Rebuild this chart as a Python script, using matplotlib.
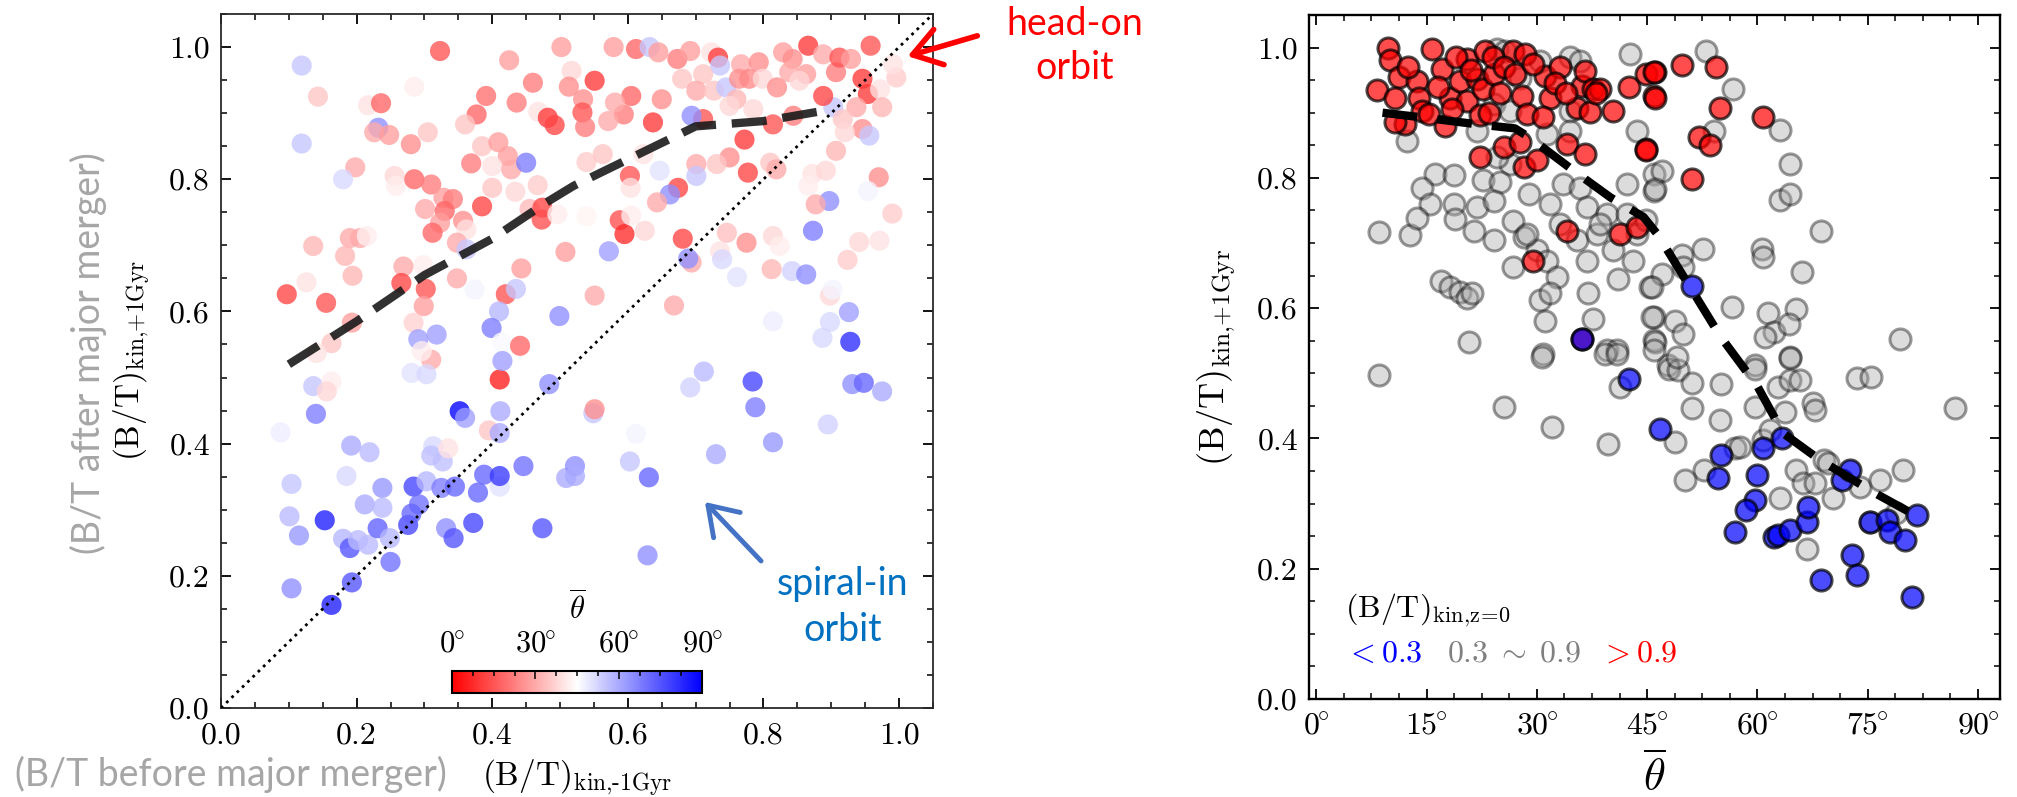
import matplotlib
matplotlib.use("Agg")
import matplotlib.pyplot as plt
import matplotlib.cm as cm
import matplotlib.colors as mcolors
from matplotlib.patches import FancyArrowPatch
from matplotlib.ticker import MultipleLocator

plt.rcParams["font.family"] = "serif"
plt.rcParams["font.serif"] = ["cmr10"]
plt.rcParams["mathtext.fontset"] = "cm"
plt.rcParams["axes.formatter.use_mathtext"] = True

# ---- left panel: B/T before vs after major merger, colour = mean angle ----
bt_before = [
    0.119, 0.323, 0.143, 0.217, 0.236, 0.285, 0.119, 0.232, 0.226, 0.248, 0.280, 0.305,
    0.198, 0.180, 0.256, 0.258, 0.285, 0.310, 0.328, 0.301, 0.342, 0.330, 0.323, 0.312,
    0.357, 0.362, 0.348, 0.362, 0.385, 0.391, 0.377, 0.360, 0.425, 0.460, 0.436, 0.468,
    0.482, 0.492, 0.369, 0.385, 0.409, 0.423, 0.400, 0.428, 0.450, 0.400, 0.434, 0.467,
    0.455, 0.474, 0.473, 0.496, 0.502, 0.517, 0.513, 0.534, 0.533, 0.537, 0.551, 0.539,
    0.539, 0.508, 0.443, 0.420, 0.435, 0.410, 0.399, 0.414, 0.441, 0.499, 0.551, 0.374,
    0.348, 0.298, 0.269, 0.266, 0.302, 0.299, 0.284, 0.310, 0.291, 0.318, 0.296, 0.097,
    0.126, 0.155, 0.136, 0.190, 0.205, 0.215, 0.183, 0.194, 0.193, 0.163, 0.141,
    0.579, 0.612, 0.632, 0.645, 0.673, 0.692, 0.723, 0.733, 0.736, 0.680, 0.711, 0.701,
    0.727, 0.745, 0.767, 0.793, 0.764, 0.779, 0.799, 0.760, 0.750, 0.785, 0.820, 0.829,
    0.843, 0.866, 0.888, 0.863, 0.838, 0.853, 0.907, 0.912, 0.929, 0.958, 0.946, 0.954,
    0.972, 0.996, 0.991, 0.975, 0.937, 0.903, 0.888, 0.917, 0.946, 0.956, 0.920, 0.907,
    0.872, 0.892, 0.866, 0.897, 0.877, 0.970, 0.954, 0.990, 0.873, 0.814, 0.824, 0.775,
    0.746, 0.736, 0.739, 0.761, 0.812, 0.842, 0.863, 0.941, 0.971, 0.924, 0.898, 0.902,
    0.926, 0.898, 0.887, 0.928, 0.814, 0.810, 0.819, 0.777, 0.772, 0.814, 0.844, 0.750,
    0.731, 0.701, 0.701, 0.711, 0.694, 0.637, 0.650, 0.605, 0.594, 0.571, 0.581, 0.563,
    0.603, 0.604, 0.647, 0.623, 0.674, 0.662, 0.643, 0.588, 0.595, 0.605, 0.625, 0.572,
    0.681, 0.694, 0.689, 0.668,
    0.136, 0.163, 0.156, 0.140, 0.088, 0.192, 0.219, 0.104, 0.185, 0.101, 0.115, 0.153,
    0.180, 0.190, 0.202, 0.217, 0.212, 0.238, 0.238, 0.231, 0.249, 0.250, 0.104, 0.193,
    0.163, 0.276, 0.284, 0.292, 0.303, 0.281, 0.313, 0.310, 0.327, 0.335, 0.325, 0.345,
    0.332, 0.343, 0.352, 0.360, 0.372, 0.379, 0.388, 0.395, 0.411, 0.412, 0.411, 0.411,
    0.411, 0.415, 0.446, 0.474, 0.484, 0.509, 0.522, 0.522, 0.549, 0.551, 0.281, 0.303,
    0.612, 0.603, 0.631, 0.629, 0.712, 0.692, 0.784, 0.788, 0.730, 0.814, 0.895, 0.931,
    0.948, 0.975,
]
bt_after = [
    0.972, 0.994, 0.925, 0.912, 0.915, 0.940, 0.854, 0.878, 0.871, 0.867, 0.853, 0.871,
    0.818, 0.800, 0.805, 0.790, 0.800, 0.792, 0.772, 0.755, 0.770, 0.752, 0.734, 0.719,
    0.737, 0.724, 0.704, 0.694, 0.759, 0.926, 0.898, 0.883, 0.980, 0.946, 0.916, 0.902,
    0.893, 0.882, 0.824, 0.850, 0.856, 0.835, 0.820, 0.815, 0.825, 0.787, 0.781, 0.791,
    0.755, 0.757, 0.739, 0.747, 1.000, 0.964, 0.940, 0.921, 0.901, 0.879, 0.949, 0.826,
    0.744, 0.690, 0.665, 0.626, 0.634, 0.600, 0.575, 0.553, 0.548, 0.593, 0.624, 0.633,
    0.650, 0.670, 0.668, 0.643, 0.634, 0.608, 0.583, 0.527, 0.558, 0.565, 0.540, 0.626,
    0.644, 0.613, 0.699, 0.711, 0.711, 0.714, 0.684, 0.654, 0.583, 0.552, 0.537,
    1.000, 0.997, 1.000, 0.992, 0.982, 0.994, 0.992, 0.984, 0.972, 0.952, 0.959, 0.934,
    0.934, 0.939, 0.974, 0.977, 0.952, 0.952, 0.952, 0.921, 0.911, 0.906, 0.939, 0.992,
    0.982, 1.002, 0.989, 0.959, 0.962, 0.949, 0.962, 0.984, 0.982, 1.002, 0.952, 0.929,
    0.936, 0.954, 0.974, 0.909, 0.909, 0.909, 0.926, 0.891, 0.876, 0.866, 0.871, 0.843,
    0.808, 0.813, 0.790, 0.767, 0.762, 0.803, 0.782, 0.748, 0.722, 0.714, 0.699, 0.704,
    0.719, 0.691, 0.679, 0.652, 0.664, 0.661, 0.656, 0.705, 0.707, 0.678, 0.624, 0.633,
    0.599, 0.584, 0.560, 0.554, 0.585, 0.825, 0.815, 0.810, 0.860, 0.883, 0.896, 0.833,
    0.823, 0.823, 0.805, 0.891, 0.896, 0.886, 0.921, 0.926, 0.898, 0.888, 0.916, 0.838,
    0.805, 0.787, 0.813, 0.838, 0.787, 0.777, 0.765, 0.738, 0.717, 0.745, 0.722, 0.691,
    0.710, 0.674, 0.680, 0.609,
    0.487, 0.494, 0.479, 0.445, 0.417, 0.397, 0.387, 0.339, 0.351, 0.290, 0.261, 0.284,
    0.256, 0.242, 0.254, 0.247, 0.308, 0.333, 0.303, 0.272, 0.257, 0.221, 0.181, 0.190,
    0.156, 0.277, 0.335, 0.308, 0.343, 0.294, 0.396, 0.382, 0.373, 0.393, 0.333, 0.335,
    0.272, 0.257, 0.449, 0.439, 0.280, 0.326, 0.353, 0.420, 0.416, 0.449, 0.335, 0.351,
    0.497, 0.525, 0.366, 0.272, 0.490, 0.348, 0.366, 0.351, 0.446, 0.452, 0.507, 0.505,
    0.415, 0.373, 0.349, 0.231, 0.509, 0.485, 0.494, 0.455, 0.384, 0.402, 0.429, 0.490,
    0.492, 0.479,
]
theta_left = [
    55, 15, 35, 40, 18, 42, 55, 65, 30, 28, 25, 35,
    30, 52, 38, 42, 18, 22, 28, 30, 22, 18, 28, 18,
    25, 40, 30, 55, 12, 20, 18, 35, 28, 22, 22, 40,
    10, 12, 22, 35, 28, 28, 40, 30, 68, 35, 38, 36,
    33, 12, 14, 42, 28, 38, 25, 25, 15, 22, 10, 36,
    43, 28, 28, 15, 55, 58, 68, 46, 18, 65, 30, 47,
    30, 42, 30, 12, 15, 28, 37, 30, 62, 62, 42, 12,
    40, 15, 32, 30, 30, 42, 32, 32, 28, 35, 40,
    28, 18, 55, 28, 22, 28, 40, 10, 55, 35, 35, 30,
    35, 55, 30, 25, 25, 24, 38, 32, 38, 38, 25, 28,
    25, 10, 30, 28, 30, 38, 22, 15, 28, 15, 10, 10,
    40, 36, 40, 32, 30, 55, 12, 35, 25, 55, 38, 32,
    40, 38, 42, 65, 30, 25, 47, 36, 68, 38, 42, 25,
    34, 40, 52, 50, 32, 53, 65, 38, 40, 36, 38, 47,
    62, 52, 52, 82, 48, 35, 30, 12, 10, 15, 22, 25,
    35, 30, 55, 15, 65, 10, 25, 18, 22, 30, 30, 35,
    15, 40, 50, 40, 12, 65, 30, 14, 8, 42, 38, 62,
    12, 30, 65, 30,
    55, 42, 38, 68, 48, 60, 57, 55, 52, 57, 63, 85,
    58, 75, 57, 57, 60, 63, 57, 73, 58, 70, 65, 75,
    85, 78, 78, 70, 58, 72, 52, 56, 56, 40, 68, 72,
    65, 75, 90, 62, 78, 72, 72, 35, 60, 60, 50, 80,
    5, 62, 70, 75, 65, 60, 65, 60, 55, 25, 50, 52,
    47, 55, 72, 65, 57, 53, 78, 68, 60, 63, 53, 65,
    72, 60,
]

# binned median curve, left panel
med_left_x = [0.10, 0.20, 0.30, 0.40, 0.48, 0.52, 0.60, 0.66, 0.70, 0.80, 0.88]
med_left_y = [0.52, 0.585, 0.655, 0.71, 0.765, 0.79, 0.83, 0.86, 0.880, 0.888, 0.902]

# ---- right panel: mean angle vs B/T after merger, split by z=0 B/T ----
theta_gray = [
    24.6, 25.7, 30.4, 34.5, 35.9, 42.7, 27.7, 24.1, 26.4, 34.5, 12.3, 21.8,
    31.4, 34.5, 43.6, 26.4, 24.6, 16.2, 18.7, 14.4, 22.7, 25.0, 15.5, 18.7,
    21.8, 24.1, 28.9, 31.8, 33.6, 35.9, 36.8, 42.2, 45.9, 45.9, 39.5, 42.2,
    8.5, 12.8, 13.7, 18.9, 21.4, 24.1, 26.8, 28.2, 33.2, 35.4, 38.2, 38.6,
    40.4, 43.6, 43.1, 30.0, 31.4, 28.6, 26.8, 32.7, 36.8, 16.9, 18.2, 19.6,
    20.5, 21.2, 41.1, 45.4, 30.4, 31.8, 37.0, 31.1, 37.7, 20.7, 30.9, 45.9,
    39.5, 40.9, 45.9,
    53.0, 56.7, 54.1, 63.1, 64.4, 47.0, 46.1, 63.1, 64.5, 68.7, 44.9, 52.6,
    49.7, 60.6, 60.8, 66.0, 47.0, 45.6, 49.9, 56.5, 61.5, 65.2, 45.6, 48.8,
    49.9, 46.1, 62.2, 61.0, 64.3, 79.4, 64.4, 47.9, 59.7,
    8.5, 25.5, 32.0, 39.7, 30.7, 39.3, 40.9, 41.3,
    48.0, 49.2, 51.1, 55.1, 59.7, 64.4, 62.8, 64.4, 65.8, 73.5, 75.5, 51.1,
    54.9, 59.7, 63.7, 67.6, 67.8, 86.9, 48.8, 56.9, 57.6, 60.8, 61.7, 52.7,
    50.2, 65.3, 66.2, 67.8, 69.1, 69.6, 74.0, 76.7, 79.8, 63.1, 70.3, 66.7,
    78.9, 75.3, 49.0, 45.9,
]
bt_gray = [
    0.998, 0.995, 0.980, 0.985, 0.980, 0.990, 0.954, 0.913, 0.903, 0.903, 0.857, 0.872,
    0.867, 0.872, 0.872, 0.822, 0.832, 0.806, 0.804, 0.785, 0.796, 0.793, 0.760, 0.760,
    0.755, 0.765, 0.775, 0.760, 0.791, 0.785, 0.755, 0.791, 0.806, 0.780, 0.745, 0.745,
    0.717, 0.712, 0.739, 0.737, 0.719, 0.704, 0.734, 0.709, 0.729, 0.704, 0.714, 0.729,
    0.689, 0.714, 0.673, 0.689, 0.673, 0.714, 0.663, 0.648, 0.673, 0.642, 0.632, 0.625,
    0.615, 0.623, 0.645, 0.632, 0.612, 0.623, 0.623, 0.581, 0.584, 0.548, 0.530, 0.586,
    0.536, 0.536, 0.551,
    0.995, 0.937, 0.872, 0.873, 0.822, 0.811, 0.783, 0.766, 0.775, 0.719, 0.735, 0.691,
    0.681, 0.691, 0.679, 0.656, 0.653, 0.632, 0.663, 0.602, 0.592, 0.598, 0.586, 0.581,
    0.561, 0.548, 0.563, 0.556, 0.576, 0.553, 0.525, 0.512, 0.512,
    0.497, 0.449, 0.418, 0.392, 0.525, 0.530, 0.530, 0.479,
    0.507, 0.505, 0.485, 0.484, 0.507, 0.523, 0.479, 0.489, 0.489, 0.492, 0.494, 0.446,
    0.429, 0.448, 0.441, 0.454, 0.443, 0.446, 0.395, 0.385, 0.387, 0.397, 0.413, 0.351,
    0.336, 0.351, 0.331, 0.331, 0.367, 0.362, 0.326, 0.336, 0.351, 0.308, 0.308, 0.231,
    0.285, 0.272, 0.525, 0.535,
]
theta_red = [
    9.7, 10.0, 11.2, 8.2, 10.7, 13.7, 13.9, 14.4, 15.3, 12.1, 10.7, 17.5,
    15.7, 17.1, 18.2, 19.6, 20.5, 21.8, 20.5, 23.0, 22.7, 22.3, 24.1, 25.0,
    26.8, 28.4, 28.0, 28.6, 31.1, 31.8, 30.9, 33.2, 35.4, 36.1, 36.6, 37.2,
    37.7, 38.6, 40.4, 42.5, 44.9, 46.1, 45.9, 22.3, 25.5, 27.7, 28.2, 30.0,
    34.1, 36.6, 44.9, 34.1, 41.3, 43.6, 29.5, 36.1,
    45.9, 46.1, 44.9, 49.7, 54.3, 54.9, 52.1, 53.6, 51.1, 60.8,
    12.5, 16.5, 19.0, 21.0, 24.0, 25.5, 27.0, 29.5, 32.5, 34.0, 18.5, 23.5, 38.0,
]
bt_red = [
    1.000, 0.981, 0.955, 0.935, 0.923, 0.949, 0.923, 0.903, 0.898, 0.883, 0.885, 0.880,
    0.998, 0.967, 0.923, 0.949, 0.982, 0.952, 0.918, 0.995, 0.936, 0.896, 0.959, 0.931,
    0.995, 0.990, 0.926, 0.898, 0.957, 0.923, 0.893, 0.970, 0.908, 0.941, 0.964, 0.901,
    0.936, 0.936, 0.903, 0.939, 0.959, 0.962, 0.926, 0.832, 0.847, 0.855, 0.817, 0.827,
    0.852, 0.837, 0.844, 0.719, 0.714, 0.724, 0.673, 0.553,
    0.962, 0.923, 0.842, 0.973, 0.970, 0.907, 0.862, 0.851, 0.798, 0.893,
    0.970, 0.940, 0.985, 0.965, 0.985, 0.970, 0.960, 0.975, 0.945, 0.930, 0.905, 0.900, 0.930,
]
theta_blue = [
    36.1, 42.5, 46.8, 51.1, 55.1, 54.7, 60.8, 63.3, 59.9, 59.7, 58.5, 56.9,
    62.2, 62.8, 64.4, 66.7, 66.9, 71.5, 72.6, 75.3, 77.6, 78.0, 80.1, 81.7,
    72.8, 73.5, 68.7, 81.0,
]
bt_blue = [
    0.553, 0.491, 0.415, 0.634, 0.374, 0.339, 0.385, 0.400, 0.344, 0.305, 0.290, 0.257,
    0.249, 0.252, 0.259, 0.272, 0.295, 0.336, 0.351, 0.272, 0.275, 0.257, 0.244, 0.282,
    0.221, 0.191, 0.183, 0.157,
]

# binned median curve, right panel
med_right_theta = [9, 15, 22, 27, 29, 35, 40, 44.5, 46.5, 55, 60, 63.5, 68.5, 76, 81]
med_right_y = [0.90, 0.892, 0.882, 0.876, 0.862, 0.811, 0.770, 0.740, 0.712, 0.556, 0.480, 0.408, 0.367, 0.316, 0.285]

W, H = 2017, 797
fig = plt.figure(figsize=(W / 100, H / 100), dpi=100)


def px_box(x0, y0, x1, y1):
    return [x0 / W, 1 - y1 / H, (x1 - x0) / W, (y1 - y0) / H]


def deg(v):
    return r"$%d^{\!\!\circ}$" % v


ax1 = fig.add_axes(px_box(221, 14, 933, 708))
ax2 = fig.add_axes(px_box(1309, 15, 2000, 699))
cax = fig.add_axes(px_box(452, 671, 702, 693))

cmap = plt.get_cmap("bwr_r")
norm = mcolors.Normalize(vmin=0, vmax=90)

# left panel
ax1.scatter(bt_before, bt_after, c=theta_left, cmap=cmap, norm=norm,
            s=210, alpha=0.78, edgecolors="none", zorder=2)
ax1.axline((0, 0), slope=1, color="k", ls=":", lw=2, zorder=3)
ax1.plot(med_left_x, med_left_y, color="#1a1a1a", lw=6, ls="--",
         dashes=(4.2, 1.9), alpha=0.9, zorder=4)
ax1.set_xlim(0, 1.05)
ax1.set_ylim(0, 1.05)
ticks = [0.0, 0.2, 0.4, 0.6, 0.8, 1.0]
ax1.set_xticks(ticks)
ax1.set_yticks(ticks)
ax1.set_xticklabels([f"{t:.1f}" for t in ticks])
ax1.set_yticklabels([f"{t:.1f}" for t in ticks])
ax1.xaxis.set_minor_locator(MultipleLocator(0.05))
ax1.yaxis.set_minor_locator(MultipleLocator(0.05))
ax1.set_ylabel(r"$\mathrm{(B/T)_{kin{,}{+}1Gyr}}$", fontsize=24, labelpad=12)
ax1.set_xlabel(r"$\mathrm{(B/T)}_{\mathrm{kin{,}}\text{-}\mathrm{1Gyr}}$", fontsize=24, labelpad=6)
for sp in ax1.spines.values():
    sp.set_linewidth(1.3)
    sp.set_color("#2a2a2a")

# colour bar inset
sm = cm.ScalarMappable(norm=norm, cmap=cmap)
cb = fig.colorbar(sm, cax=cax, orientation="horizontal")
cb.outline.set_linewidth(1.5)
cax.xaxis.set_ticks_position("top")
cax.xaxis.set_label_position("top")
cb.set_ticks([0, 30, 60, 90])
cb.set_ticklabels([deg(v) for v in [0, 30, 60, 90]])
cax.xaxis.set_minor_locator(MultipleLocator(7.5))
cax.tick_params(which="both", direction="in", top=True, bottom=False, width=1.1)
cax.tick_params(which="major", length=6, labelsize=22, pad=9)
cax.tick_params(which="minor", length=3.5)
cax.set_xlabel(r"$\overline{\theta}$", fontsize=22, labelpad=8)

# right panel
ax2.scatter(theta_gray, bt_gray, s=230, facecolor="darkgray", edgecolor="k",
            linewidths=2.2, alpha=0.4, zorder=2)
ax2.scatter(theta_red, bt_red, s=230, facecolor="red", edgecolor="k",
            linewidths=2.2, alpha=0.7, zorder=3)
ax2.scatter(theta_blue, bt_blue, s=230, facecolor="blue", edgecolor="k",
            linewidths=2.2, alpha=0.7, zorder=3)
ax2.plot(med_right_theta, med_right_y, color="k", lw=6, ls="--",
         dashes=(4.2, 2.4), zorder=4)
ax2.set_xlim(-1, 93)
ax2.set_ylim(0, 1.05)
deg_ticks = [0, 15, 30, 45, 60, 75, 90]
ax2.set_xticks(deg_ticks)
ax2.set_xticklabels([deg(d) for d in deg_ticks])
ax2.set_yticks(ticks)
ax2.set_yticklabels([f"{t:.1f}" for t in ticks])
ax2.xaxis.set_minor_locator(MultipleLocator(3.75))
ax2.yaxis.set_minor_locator(MultipleLocator(0.05))
ax2.set_xlabel(r"$\overline{\theta}$", fontsize=32, labelpad=9)
ax2.set_ylabel(r"$\mathrm{(B/T)_{kin{,}{+}1Gyr}}$", fontsize=26, labelpad=14)
for sp in ax2.spines.values():
    sp.set_linewidth(1.7)

ax2.text(0.052, 0.13, r"$\mathrm{(B/T)_{kin{,}z\!=\!0}}$", transform=ax2.transAxes,
         fontsize=23, va="center", ha="left")
ax2.text(0.052, 0.066, r"$<0.3$", color="blue", transform=ax2.transAxes,
         fontsize=23, va="center", ha="left")
ax2.text(0.200, 0.066, r"$0.3\;\sim\;0.9$", color="gray", transform=ax2.transAxes,
         fontsize=23, va="center", ha="left")
ax2.text(0.421, 0.066, r"$>0.9$", color="red", transform=ax2.transAxes,
         fontsize=23, va="center", ha="left")

for ax in (ax1, ax2):
    ax.tick_params(which="both", direction="in", top=True, right=True)
    ax.tick_params(which="major", length=7, width=1.3, labelsize=23)
    ax.tick_params(which="minor", length=4, width=1.1)
    ax.tick_params(axis="x", which="major", pad=10)
    ax.tick_params(axis="y", which="major", pad=8)

# annotations (slide-style overlays)
sans = "Lato"
fig.text(1075 / W, 1 - 24 / H, "head-on", color="red", fontsize=27, family=sans,
         ha="center", va="center")
fig.text(1075 / W, 1 - 68 / H, "orbit", color="red", fontsize=27, family=sans,
         ha="center", va="center")
fig.text(843 / W, 1 - 584 / H, "spiral-in", color="#0070C0", fontsize=27, family=sans,
         ha="center", va="center")
fig.text(843 / W, 1 - 630 / H, "orbit", color="#0070C0", fontsize=27, family=sans,
         ha="center", va="center")
fig.text(88 / W, 1 - 353 / H, "(B/T after major merger)", color="#A6A6A6", fontsize=27,
         family=sans, rotation=90, ha="center", va="center")
fig.text(231 / W, 1 - 774 / H, "(B/T before major merger)", color="#A6A6A6", fontsize=27,
         family=sans, ha="center", va="center")

fig.add_artist(FancyArrowPatch(
    (980 / W, 1 - 35 / H), (905 / W, 1 - 57 / H), transform=fig.transFigure,
    arrowstyle="->,head_length=9,head_width=6", color="red", lw=4,
    mutation_scale=2.2))
fig.add_artist(FancyArrowPatch(
    (763 / W, 1 - 563 / H), (703 / W, 1 - 500 / H), transform=fig.transFigure,
    arrowstyle="->,head_length=9,head_width=6", color="#4472C4", lw=3.5,
    mutation_scale=2.2))

fig.savefig("out.png", dpi=100)
